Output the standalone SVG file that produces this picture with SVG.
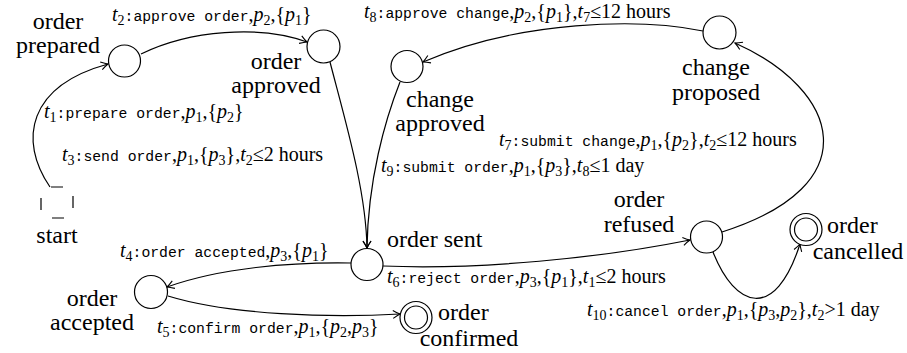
<svg xmlns="http://www.w3.org/2000/svg" width="907" height="353" viewBox="0 0 907 353">
<style>
.st{fill:#fff;stroke:#000;stroke-width:1.2}
.cn{fill:none;stroke:#000;stroke-width:1.2}
.lbl{font-family:'Liberation Serif',serif;font-size:24px;fill:#000}
.el{font-family:'Liberation Serif',serif;font-size:20px;fill:#000}
.mi{font-style:italic}
.sb{font-size:14px}
.tt{font-family:'Liberation Mono',monospace;font-size:14.75px}
</style>
<defs>
<marker id="arr" viewBox="-8 -5 10 10" refX="0" refY="0" markerWidth="10" markerHeight="10" markerUnits="userSpaceOnUse" orient="auto">
<path d="M -7 -4 Q -2.5 -1 0 0 Q -2.5 1 -7 4" fill="none" stroke="#000" stroke-width="1.1"/>
</marker>
</defs>
<rect width="907" height="353" fill="#fff"/>
<g id="connectors">
<path class="cn" d="M 50 187 C 18 140 28 86 108 64" marker-end="url(#arr)"/>
<path class="cn" d="M 141 54 C 190 30 260 25 307 42" marker-end="url(#arr)"/>
<path class="cn" d="M 330 62 C 345 120 366 190 367 248" marker-end="url(#arr)"/>
<path class="cn" d="M 400 82 C 385 120 368 180 367 248" marker-end="url(#arr)"/>
<path class="cn" d="M 703 31 C 640 18 520 20 423 62" marker-end="url(#arr)"/>
<path class="cn" d="M 722 232 C 870 185 840 90 735 43" marker-end="url(#arr)"/>
<path class="cn" d="M 351 263 C 290 262 220 268 167 287" marker-end="url(#arr)"/>
<path class="cn" d="M 168 296 C 230 315 330 318 400 314" marker-end="url(#arr)"/>
<path class="cn" d="M 383 266 C 480 270 600 258 690 240" marker-end="url(#arr)"/>
<path class="cn" d="M 713 252 C 735 308 775 322 800 244" marker-end="url(#arr)"/>
</g>
<g id="edge-labels">
<text class="el" x="44" y="118"><tspan class="mi">t</tspan><tspan class="sb" dy="4">1</tspan><tspan class="tt" dy="-4">:prepare order</tspan><tspan>,</tspan><tspan class="mi">p</tspan><tspan class="sb" dy="4">1</tspan><tspan dy="-4">,{</tspan><tspan class="mi">p</tspan><tspan class="sb" dy="4">2</tspan><tspan dy="-4">}</tspan></text>
<text class="el" x="112" y="21"><tspan class="mi">t</tspan><tspan class="sb" dy="4">2</tspan><tspan class="tt" dy="-4">:approve order</tspan><tspan>,</tspan><tspan class="mi">p</tspan><tspan class="sb" dy="4">2</tspan><tspan dy="-4">,{</tspan><tspan class="mi">p</tspan><tspan class="sb" dy="4">1</tspan><tspan dy="-4">}</tspan></text>
<text class="el" x="62" y="161"><tspan class="mi">t</tspan><tspan class="sb" dy="4">3</tspan><tspan class="tt" dy="-4">:send order</tspan><tspan>,</tspan><tspan class="mi">p</tspan><tspan class="sb" dy="4">1</tspan><tspan dy="-4">,{</tspan><tspan class="mi">p</tspan><tspan class="sb" dy="4">3</tspan><tspan dy="-4">},</tspan><tspan class="mi">t</tspan><tspan class="sb" dy="4">2</tspan><tspan dy="-4">≤2 hours</tspan></text>
<text class="el" x="364" y="18"><tspan class="mi">t</tspan><tspan class="sb" dy="4">8</tspan><tspan class="tt" dy="-4">:approve change</tspan><tspan>,</tspan><tspan class="mi">p</tspan><tspan class="sb" dy="4">2</tspan><tspan dy="-4">,{</tspan><tspan class="mi">p</tspan><tspan class="sb" dy="4">1</tspan><tspan dy="-4">},</tspan><tspan class="mi">t</tspan><tspan class="sb" dy="4">7</tspan><tspan dy="-4">≤12 hours</tspan></text>
<text class="el" x="499" y="146"><tspan class="mi">t</tspan><tspan class="sb" dy="4">7</tspan><tspan class="tt" dy="-4">:submit change</tspan><tspan>,</tspan><tspan class="mi">p</tspan><tspan class="sb" dy="4">1</tspan><tspan dy="-4">,{</tspan><tspan class="mi">p</tspan><tspan class="sb" dy="4">2</tspan><tspan dy="-4">},</tspan><tspan class="mi">t</tspan><tspan class="sb" dy="4">2</tspan><tspan dy="-4">≤12 hours</tspan></text>
<text class="el" x="381" y="172"><tspan class="mi">t</tspan><tspan class="sb" dy="4">9</tspan><tspan class="tt" dy="-4">:submit order</tspan><tspan>,</tspan><tspan class="mi">p</tspan><tspan class="sb" dy="4">1</tspan><tspan dy="-4">,{</tspan><tspan class="mi">p</tspan><tspan class="sb" dy="4">3</tspan><tspan dy="-4">},</tspan><tspan class="mi">t</tspan><tspan class="sb" dy="4">8</tspan><tspan dy="-4">≤1 day</tspan></text>
<text class="el" x="120" y="257"><tspan class="mi">t</tspan><tspan class="sb" dy="4">4</tspan><tspan class="tt" dy="-4">:order accepted</tspan><tspan>,</tspan><tspan class="mi">p</tspan><tspan class="sb" dy="4">3</tspan><tspan dy="-4">,{</tspan><tspan class="mi">p</tspan><tspan class="sb" dy="4">1</tspan><tspan dy="-4">}</tspan></text>
<text class="el" x="387" y="283"><tspan class="mi">t</tspan><tspan class="sb" dy="4">6</tspan><tspan class="tt" dy="-4">:reject order</tspan><tspan>,</tspan><tspan class="mi">p</tspan><tspan class="sb" dy="4">3</tspan><tspan dy="-4">,{</tspan><tspan class="mi">p</tspan><tspan class="sb" dy="4">1</tspan><tspan dy="-4">},</tspan><tspan class="mi">t</tspan><tspan class="sb" dy="4">1</tspan><tspan dy="-4">≤2 hours</tspan></text>
<text class="el" x="157" y="333"><tspan class="mi">t</tspan><tspan class="sb" dy="4">5</tspan><tspan class="tt" dy="-4">:confirm order</tspan><tspan>,</tspan><tspan class="mi">p</tspan><tspan class="sb" dy="4">1</tspan><tspan dy="-4">,{</tspan><tspan class="mi">p</tspan><tspan class="sb" dy="4">2</tspan><tspan dy="-4">,</tspan><tspan class="mi">p</tspan><tspan class="sb" dy="4">3</tspan><tspan dy="-4">}</tspan></text>
<text class="el" x="587" y="316"><tspan class="mi">t</tspan><tspan class="sb" dy="4">10</tspan><tspan class="tt" dy="-4">:cancel order</tspan><tspan>,</tspan><tspan class="mi">p</tspan><tspan class="sb" dy="4">1</tspan><tspan dy="-4">,{</tspan><tspan class="mi">p</tspan><tspan class="sb" dy="4">3</tspan><tspan dy="-4">,</tspan><tspan class="mi">p</tspan><tspan class="sb" dy="4">2</tspan><tspan dy="-4">},</tspan><tspan class="mi">t</tspan><tspan class="sb" dy="4">2</tspan><tspan dy="-4">&gt;1 day</tspan></text>
</g>
<g id="start">
<rect x="41" y="187" width="32" height="31" fill="none" stroke="#000" stroke-width="1.2" stroke-dasharray="12 19" stroke-dashoffset="21"/>
<text class="lbl" x="57" y="243" text-anchor="middle">start</text>
</g>
<g id="order-prepared">
<circle class="st" cx="124.5" cy="61" r="16"/>
<text class="lbl" x="58" y="29" text-anchor="middle">order</text>
<text class="lbl" x="58" y="53" text-anchor="middle">prepared</text>
</g>
<g id="order-approved">
<circle class="st" cx="323.5" cy="46.5" r="16.5"/>
<text class="lbl" x="276" y="69" text-anchor="middle">order</text>
<text class="lbl" x="276" y="93" text-anchor="middle">approved</text>
</g>
<g id="change-approved">
<circle class="st" cx="407" cy="66.5" r="16"/>
<text class="lbl" x="440" y="107" text-anchor="middle">change</text>
<text class="lbl" x="440" y="131" text-anchor="middle">approved</text>
</g>
<g id="change-proposed">
<circle class="st" cx="719.5" cy="32.5" r="16.5"/>
<text class="lbl" x="716" y="75" text-anchor="middle">change</text>
<text class="lbl" x="716" y="100" text-anchor="middle">proposed</text>
</g>
<g id="order-sent">
<circle class="st" cx="367" cy="264.5" r="16"/>
<text class="lbl" x="387" y="247">order sent</text>
</g>
<g id="order-refused">
<circle class="st" cx="706.5" cy="237" r="16"/>
<text class="lbl" x="639" y="207" text-anchor="middle">order</text>
<text class="lbl" x="639" y="232" text-anchor="middle">refused</text>
</g>
<g id="order-cancelled">
<circle class="st" cx="806" cy="229.5" r="16"/>
<circle class="st" cx="806" cy="229.5" r="11.5"/>
<text class="lbl" x="827" y="233">order</text>
<text class="lbl" x="858" y="259" text-anchor="middle">cancelled</text>
</g>
<g id="order-accepted">
<circle class="st" cx="151" cy="292" r="16.5"/>
<text class="lbl" x="92" y="306" text-anchor="middle">order</text>
<text class="lbl" x="92" y="330" text-anchor="middle">accepted</text>
</g>
<g id="order-confirmed">
<circle class="st" cx="416" cy="317.5" r="16"/>
<circle class="st" cx="416" cy="317.5" r="11.5"/>
<text class="lbl" x="438" y="320">order</text>
<text class="lbl" x="469" y="346" text-anchor="middle">confirmed</text>
</g>
</svg>
